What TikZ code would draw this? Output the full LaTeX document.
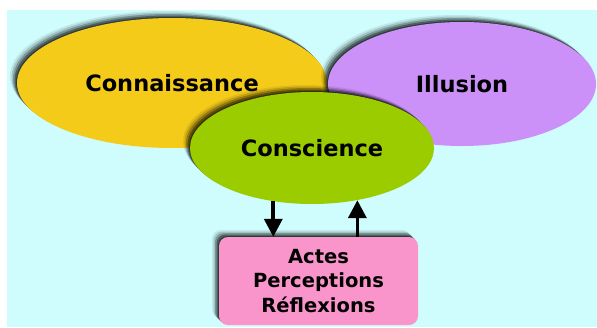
\documentclass[tikz,border=0pt]{standalone}
\usepackage{fontspec}
\setmainfont{DejaVu Sans}
\usetikzlibrary{shapes.geometric,arrows.meta,shadows}

\definecolor{skyback}{HTML}{CFFCFC}
\definecolor{knowyellow}{HTML}{F5CB1A}
\definecolor{illusionviolet}{HTML}{CB91F9}
\definecolor{mindgreen}{HTML}{9ACC00}
\definecolor{actpink}{HTML}{F995CA}

\tikzset{
  softshadow/.style={
    drop shadow={shadow xshift=-7pt, shadow yshift=7pt, fill=black, opacity=.08},
    drop shadow={shadow xshift=-5.5pt, shadow yshift=5.5pt, fill=black, opacity=.15},
    drop shadow={shadow xshift=-4pt, shadow yshift=4pt, fill=black, opacity=.25},
    drop shadow={shadow xshift=-2.5pt, shadow yshift=2.5pt, fill=black, opacity=.35},
    drop shadow={shadow xshift=-1pt, shadow yshift=1pt, fill=black, opacity=.4}}
}

\begin{document}
\begin{tikzpicture}[x=1pt, y=-1pt,
    notion/.style={ellipse, inner sep=0pt, softshadow,
        font=\bfseries\fontsize{22.5}{27}\selectfont},
    deeds/.style={rectangle, rounded corners=9pt, fill=actpink, inner sep=0pt,
        minimum width=199pt, minimum height=88pt, align=center, softshadow,
        font=\bfseries\fontsize{19.5}{24.5}\selectfont},
    flow/.style={line width=3.6pt, -{Triangle[width=18pt,length=18pt]}}
]
\useasboundingbox (0,0) rectangle (597,327);
\fill[white] (0,0) rectangle (597,327);
\fill[skyback] (7,10) rectangle (597,327);

\node (Connaissance) [notion, fill=knowyellow, minimum width=310pt, minimum height=130pt]
  at (172,83) {Connaissance};
\node (Illusion) [notion, fill=illusionviolet, minimum width=268pt, minimum height=124pt]
  at (462,84) {Illusion};
\node (Conscience) [notion, fill=mindgreen, minimum width=244pt, minimum height=112pt]
  at (312,148) {Conscience};
\node (Actes) [deeds] at (318.5,281) {Actes\\Perceptions\\Réflexions};

\draw[flow] (Conscience.234) -- (Conscience.234 |- Actes.north);
\draw[flow] (Conscience.311 |- Actes.north) -- (Conscience.311);

\end{tikzpicture}
\end{document}
